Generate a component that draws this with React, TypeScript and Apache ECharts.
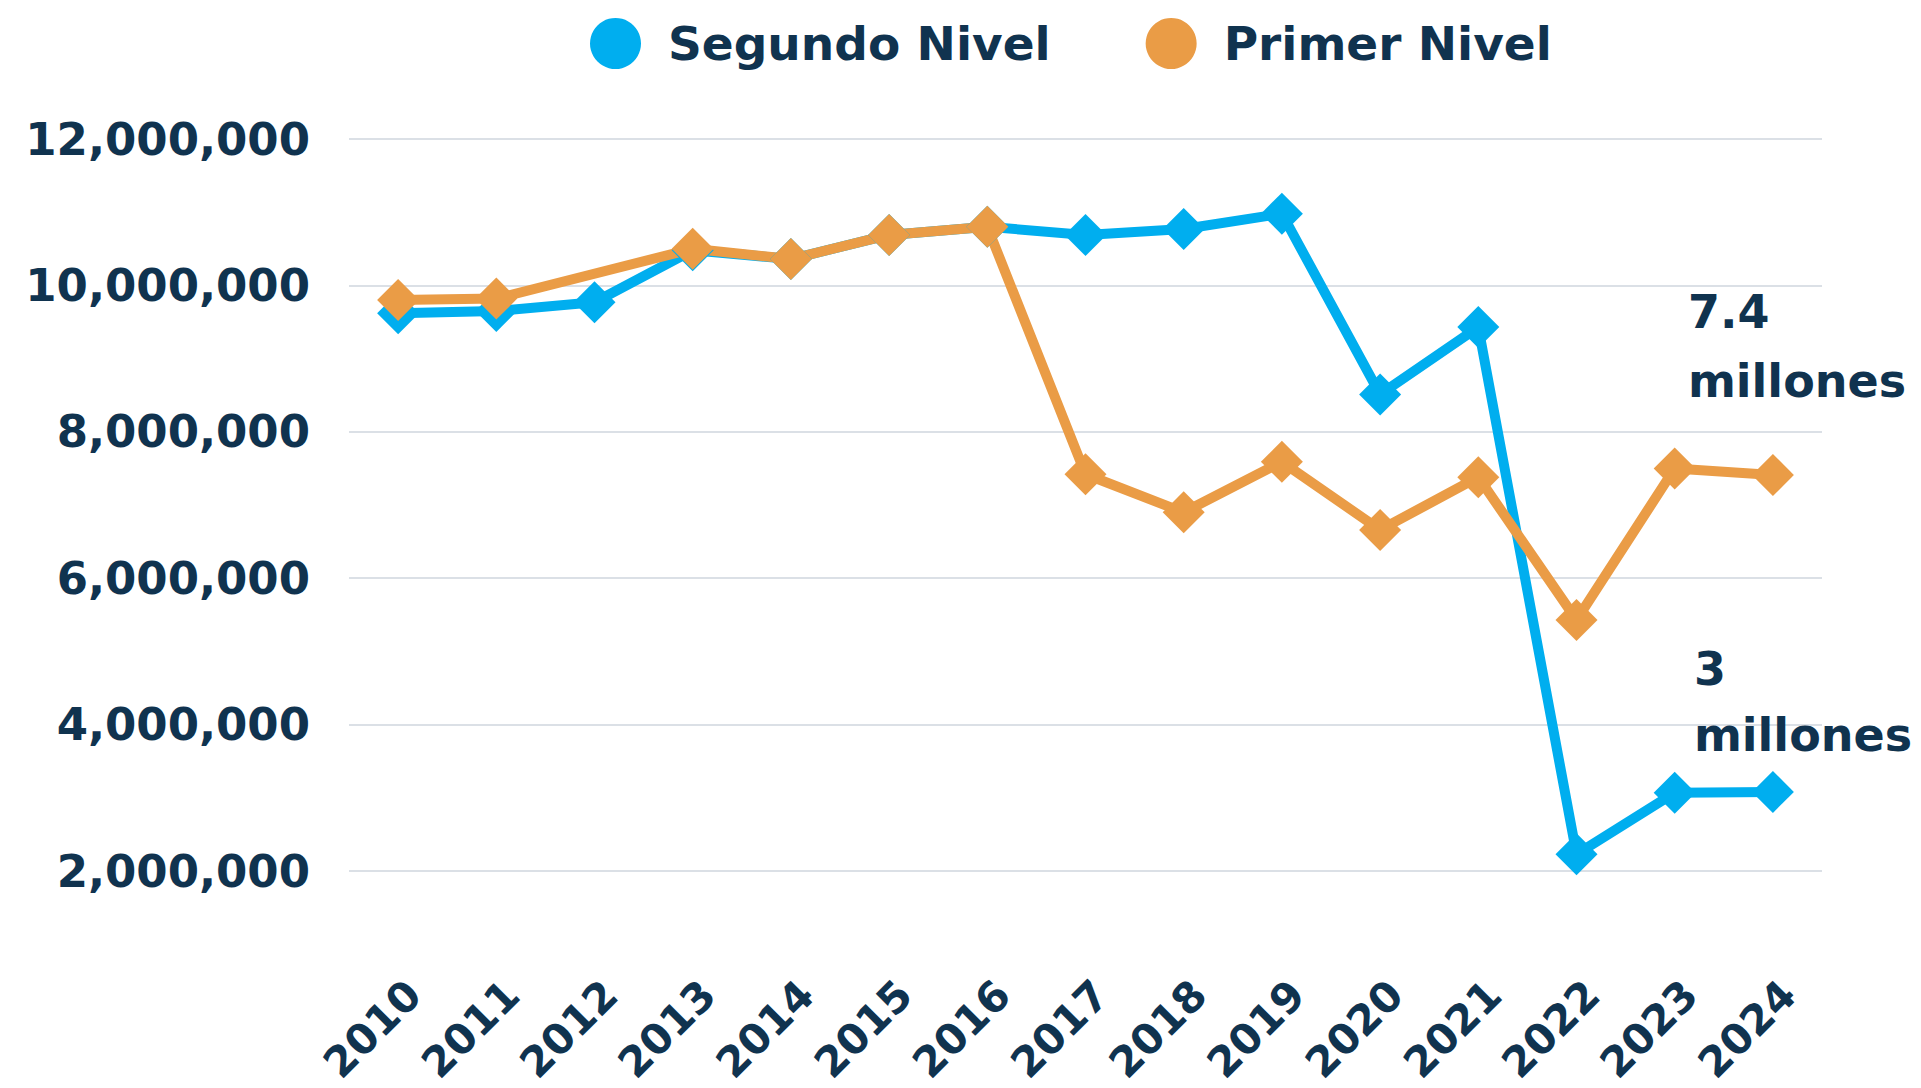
import React, { useEffect, useRef } from "react";
import * as echarts from "echarts";

const years = ["2010", "2011", "2012", "2013", "2014", "2015", "2016", "2017", "2018", "2019", "2020", "2021", "2022", "2023", "2024"];
const segundoNivel = [9620000, 9650000, 9770000, 10480000, 10360000, 10690000, 10800000, 10690000, 10770000, 10980000, 8510000, 9430000, 2230000, 3070000, 3080000];
const primerNivel = [9800000, 9820000, null, 10500000, 10360000, 10690000, 10800000, 7420000, 6900000, 7590000, 6660000, 7380000, 5430000, 7500000, 7410000];
const seriesNames = ["Segundo Nivel", "Primer Nivel"];
const primerNote = "7.4\nmillones";
const segundoNote = "3\nmillones";

const NAVY = "#10334f";
const BLUE = "#00aeef";
const ORANGE = "#ea9c46";
const FONT = "'DejaVu Sans', sans-serif";

export default function App() {
  const ref = useRef<HTMLDivElement>(null);
  useEffect(() => {
    if (!ref.current) return;
    const chart = echarts.init(ref.current, null, { renderer: "svg" });
    const last = years.length - 1;
    const noteStyle = {
      show: true,
      position: "top",
      align: "left",
      verticalAlign: "bottom",
      fontFamily: FONT,
      fontWeight: "bold",
      fontSize: 46,
      color: NAVY,
    };
    chart.setOption({
      animation: false,
      backgroundColor: "#ffffff",
      legend: {
        data: seriesNames,
        left: 585,
        top: 13,
        icon: "circle",
        itemWidth: 51,
        itemHeight: 51,
        itemGap: 95,
        textStyle: {
          fontFamily: FONT,
          fontWeight: "bold",
          fontSize: 47,
          color: NAVY,
          padding: [0, 0, 0, 22],
        },
      },
      grid: {
        left: 349,
        right: 99,
        top: 139,
        bottom: 217,
        containLabel: false,
        outerBoundsMode: "none",
      },
      xAxis: {
        type: "category",
        data: years,
        boundaryGap: true,
        axisLine: { show: false },
        axisTick: { show: false },
        axisLabel: {
          rotate: 45,
          margin: 101,
          verticalAlign: "top",
          lineHeight: 44,
          fontFamily: FONT,
          fontWeight: "bold",
          fontSize: 42,
          color: NAVY,
          interval: 0,
        },
      },
      yAxis: {
        type: "value",
        min: 2000000,
        max: 12000000,
        interval: 2000000,
        axisLine: { show: false },
        axisTick: { show: false },
        splitLine: { lineStyle: { color: "#cfd6de", width: 1.5 } },
        axisLabel: {
          margin: 39,
          fontFamily: FONT,
          fontWeight: "bold",
          fontSize: 45,
          color: NAVY,
          formatter: (v: number) => v.toLocaleString("en-US"),
        },
      },
      series: [
        {
          name: seriesNames[0],
          type: "line",
          color: BLUE,
          symbol: "diamond",
          symbolSize: 42,
          lineStyle: { width: 10, color: BLUE },
          itemStyle: { color: BLUE },
          data: segundoNivel.map((v, i) =>
            i === last
              ? { value: v, label: { ...noteStyle, formatter: segundoNote, lineHeight: 66, offset: [-79, 2] } }
              : v
          ),
        },
        {
          name: seriesNames[1],
          type: "line",
          color: ORANGE,
          connectNulls: true,
          symbol: "diamond",
          symbolSize: 42,
          lineStyle: { width: 10, color: ORANGE },
          itemStyle: { color: ORANGE },
          data: primerNivel.map((v, i) =>
            i === last
              ? { value: v, label: { ...noteStyle, formatter: primerNote, lineHeight: 69, offset: [-85, -33] } }
              : v === null
              ? "-"
              : v
          ),
        },
      ],
    });
    return () => chart.dispose();
  }, []);
  return (
    <div
      ref={ref}
      style={{ position: "absolute", left: 0, top: 0, width: 1921, height: 1088 }}
    />
  );
}
